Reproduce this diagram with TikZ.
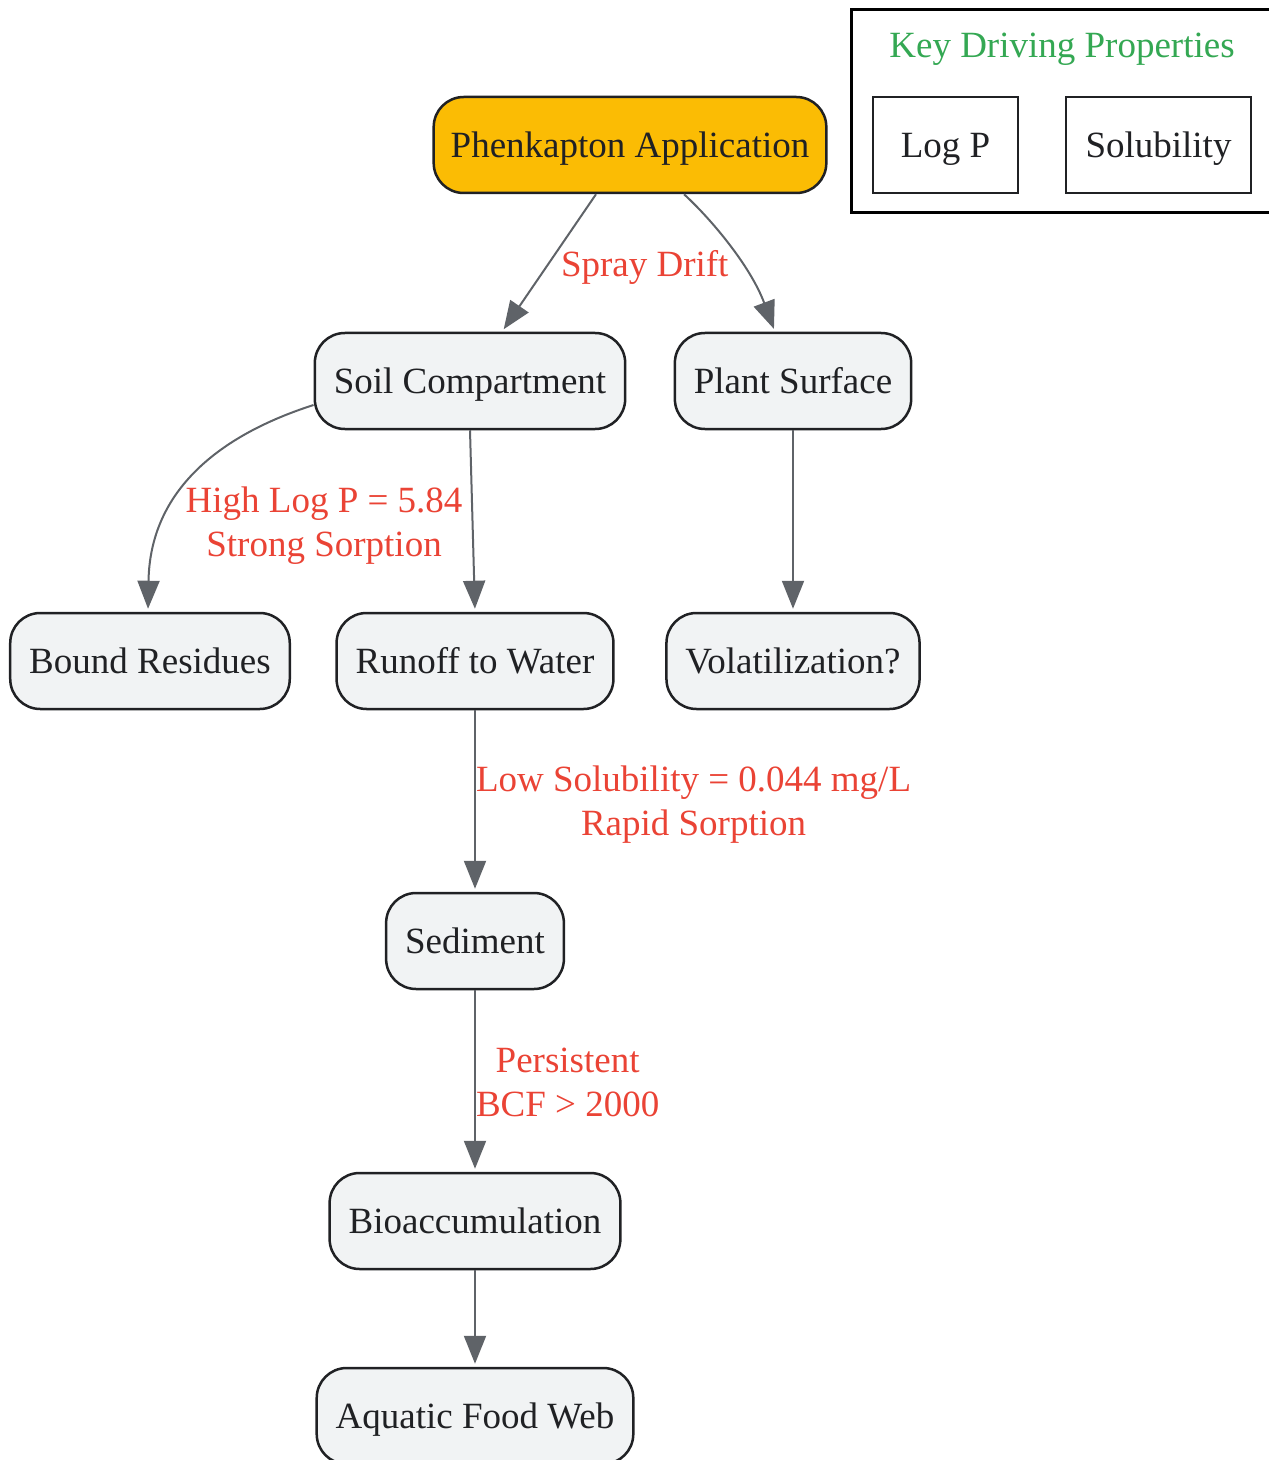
\documentclass[tikz,border=0pt]{standalone}
\usepackage{fontspec}
\setmainfont{Liberation Serif}
\usetikzlibrary{arrows.meta}
\definecolor{nodefill}{HTML}{F1F3F4}
\definecolor{appfill}{HTML}{FBBC04}
\definecolor{inkdark}{HTML}{202124}
\definecolor{edgegray}{HTML}{5F6368}
\definecolor{lblred}{HTML}{EA4335}
\definecolor{keygreen}{HTML}{34A853}

\begin{document}
\begin{tikzpicture}[->,>={Triangle[length=14pt,width=11pt]},shorten >=1.5pt,
                    x=0.5pt,y=-0.5pt,font=\fontsize{18.5pt}{22pt}\selectfont]
  \tikzstyle{box}=[draw=inkdark,fill=nodefill,line width=1.25pt,rounded corners=15pt,
                   minimum height=48pt,inner xsep=9.5pt,text=inkdark,text height=12.5pt,text depth=0pt]
  \tikzstyle{keybox}=[draw=inkdark,fill=white,line width=1.25pt,minimum height=48pt,text=inkdark,
                      text height=12.5pt,text depth=0pt]
  \tikzstyle{lbl}=[text=lblred,align=center,inner sep=0pt]
  \tikzstyle{flow}=[draw=edgegray,line width=1pt]
  \tikzstyle{every edge}=[flow]
  \useasboundingbox (0,0) rectangle (1268,1460);

\node [box,fill=appfill,inner xsep=8.5pt] (app) at (630,145) {Phenkapton Application};
\node [box] (soil) at (470,381) {Soil Compartment};
\node [box] (plant) at (793,381) {Plant Surface};
\node [box] (bound) at (150,661) {Bound Residues};
\node [box] (runoff) at (475,661) {Runoff to Water};
\node [box] (vol) at (793,661) {Volatilization?};
\node [box] (sed) at (475,941) {Sediment};
\node [box] (bio) at (475,1221) {Bioaccumulation};
\node [box] (web) at (475,1416) {Aquatic Food Web};

% legend
\node [draw=black,fill=white,line width=1.5pt,minimum width=212pt,minimum height=101.5pt]
      (key) at (1063,111.5) {};
\node [text=keygreen,text height=12.5pt,text depth=0pt] (keytitle) at (1062,45) {Key Driving Properties};
\node [keybox,minimum width=72.5pt] (logp) at (945.5,145) {Log P};
\node [keybox,minimum width=92.5pt] (sol) at (1158.5,145) {Solubility};

\path ([xshift=-17pt]app.south) edge node[lbl,right,xshift=5.5pt,yshift=-2pt] {Spray Drift} ([xshift=16pt]soil.north);
\draw [flow] ([xshift=27pt]app.south) .. controls (710,218) and (750,265) .. ([xshift=-9pt]plant.north);
\draw [flow] ([yshift=-12pt]soil.west) .. controls (220,435) and (150,490) .. ([xshift=-1pt]bound.north)
      node[lbl,midway,xshift=63.8pt,yshift=-26pt] {High Log P = 5.84\\Strong Sorption};
\path (soil.south) edge (runoff.north);
\path (plant.south) edge (vol.north);
\path (runoff.south) edge node[lbl,right,yshift=-2pt] {Low Solubility = 0.044 mg/L\\Rapid Sorption} (sed.north);
\path (sed.south) edge node[lbl,right,yshift=-0.5pt] {Persistent\\BCF > 2000} (bio.north);
\path (bio.south) edge (web.north);

\end{tikzpicture}
\end{document}
